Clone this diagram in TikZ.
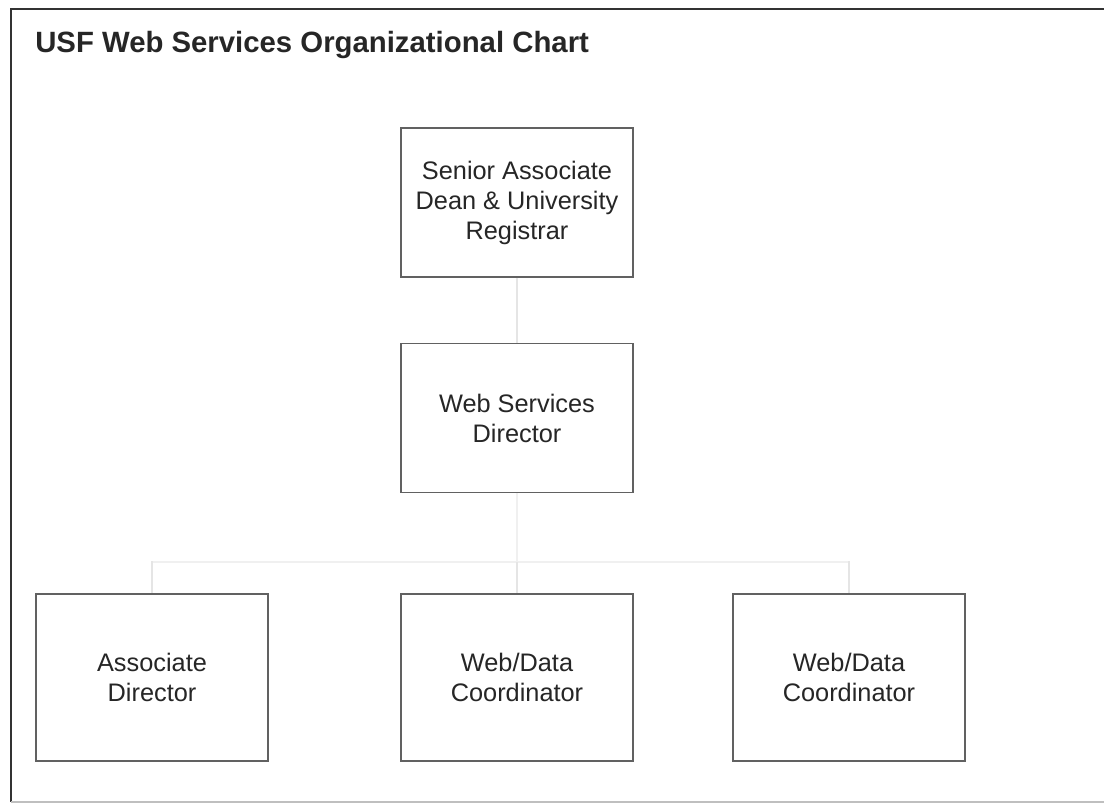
\documentclass[tikz,border=0pt]{standalone}
\usepackage{fontspec}
\setmainfont{Liberation Sans}
\begin{document}
\begin{tikzpicture}[x=0.75pt,y=-0.75pt,
  orgbox/.style={draw=black!62, line width=1.1pt, rectangle,
    minimum width=174pt, minimum height=112pt, inner sep=0pt,
    align=center, text=black!85,
    font=\fontsize{19pt}{22.5pt}\selectfont},
  tallbox/.style={orgbox, minimum height=125pt},
  link/.style={draw=black!10, line width=0.9pt},
  faintlink/.style={draw=black!6, line width=0.9pt},
  frame/.style={draw=black!80, line width=1.3pt}]
\useasboundingbox (0,0) rectangle (1104,806);
\fill[white] (0,0) rectangle (1104,806);

% outer page frame
\draw[frame] (1104,9) -- (11,9) -- (11,802);
\draw[draw=black!25, line width=0.8pt] (11,802) -- (1104,802);

% heading
\node[anchor=base west, inner sep=0pt, text=black!85,
  font=\fontsize{22pt}{26pt}\selectfont\bfseries] (title) at (35,53)
  {USF Web Services Organizational Chart};

% boxes
\node[orgbox] (dean) at (517,202.5) {Senior Associate\\Dean \& University\\Registrar};
\node[orgbox] (dir)  at (517,418) {Web Services\\Director};
\node[tallbox] (assoc) at (152,677.5) {Associate\\Director};
\node[tallbox] (coordA) at (517,677.5) {Web/Data\\Coordinator};
\node[tallbox] (coordB) at (849,677.5) {Web/Data\\Coordinator};

% reporting lines
\coordinate (bus) at (517,562);
\draw[link] (dean.south) -- (dir.north);
\draw[faintlink] (dir.south) -- (bus);
\draw[faintlink] (bus) -| (assoc.north);
\draw[faintlink] (bus) -| (coordB.north);
\draw[link] (bus) -- (coordA.north);
\draw[link] ([yshift=24pt]assoc.north) -- (assoc.north);
\draw[link] ([yshift=24pt]coordB.north) -- (coordB.north);
\end{tikzpicture}
\end{document}
